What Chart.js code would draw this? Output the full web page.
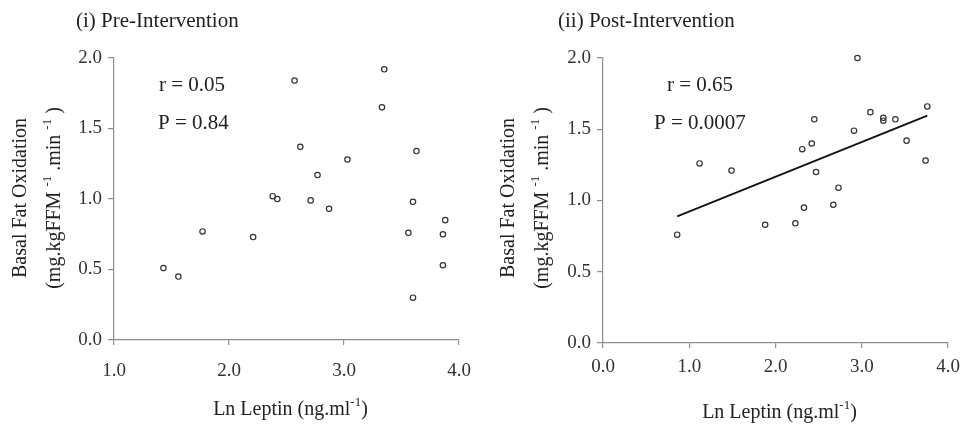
<!DOCTYPE html>
<html>
<head>
<meta charset="utf-8">
<script src="https://cdn.jsdelivr.net/npm/chart.js@4.4.1/dist/chart.umd.min.js"></script>
<style>
  html, body { margin: 0; padding: 0; background: #fff; }
  #wrap { position: relative; width: 965px; height: 432px; overflow: hidden; }
  canvas { position: absolute; top: 0; }
  #pre { left: 0; }
  #post { left: 480px; }
</style>
</head>
<body>
<div id="wrap">
  <canvas id="pre" width="480" height="432"></canvas>
  <canvas id="post" width="485" height="432"></canvas>
</div>
<script>
// values
const preLeptin = [1.43, 1.56, 1.77, 2.21, 2.38, 2.42, 2.57, 2.62, 2.71, 2.77, 2.87,
                   3.03, 3.33, 3.35, 3.63, 3.56, 3.60, 3.60, 3.88, 3.86, 3.86];
const preFatOx  = [0.51, 0.45, 0.77, 0.73, 1.02, 1.00, 1.84, 1.37, 0.99, 1.17, 0.93,
                   1.28, 1.65, 1.92, 1.34, 0.76, 0.98, 0.30, 0.85, 0.75, 0.53];

const postLeptin = [0.86, 1.12, 1.49, 1.88, 2.23, 2.31, 2.33, 2.42, 2.45, 2.47, 2.67,
                    2.73, 2.91, 2.95, 3.10, 3.25, 3.25, 3.39, 3.52, 3.74, 3.76];
const postFatOx  = [0.76, 1.26, 1.21, 0.83, 0.84, 1.36, 0.95, 1.40, 1.57, 1.20, 0.97,
                    1.09, 1.49, 2.00, 1.62, 1.58, 1.56, 1.57, 1.42, 1.28, 1.66];

const yTicks = [0, 0.5, 1.0, 1.5, 2.0];
const preXTicks = [1.0, 2.0, 3.0, 4.0];
const postXTicks = [0.0, 1.0, 2.0, 3.0, 4.0];

const preTitle = '(i) Pre-Intervention';
const postTitle = '(ii) Post-Intervention';
const preStats = ['r = 0.05', 'P = 0.84'];
const postStats = ['r = 0.65', 'P = 0.0007'];
const xLabelParts = [{ t: 'Ln Leptin (ng.ml' }, { t: '-1', sup: true }, { t: ')' }];
const yLabelLine1 = [{ t: 'Basal Fat Oxidation' }];
const yLabelLine2 = [{ t: '(mg.kgFFM ' }, { t: '-1', sup: true }, { t: ' .min ' }, { t: '-1', sup: true }, { t: ' )' }];

const SERIF = '"Liberation Serif", "Times New Roman", serif';
const AXIS = '#8e8e8e';
const INK = '#222';

function points(xs, ys) {
  return xs.map((x, i) => ({ x: x, y: ys[i] }));
}

// least squares line over the data range
function fitLine(xs, ys) {
  const n = xs.length;
  const mx = xs.reduce((a, b) => a + b, 0) / n;
  const my = ys.reduce((a, b) => a + b, 0) / n;
  let sxy = 0, sxx = 0;
  for (let i = 0; i < n; i++) {
    sxy += (xs[i] - mx) * (ys[i] - my);
    sxx += (xs[i] - mx) * (xs[i] - mx);
  }
  const b = sxy / sxx, a = my - b * mx;
  const x0 = Math.min(...xs), x1 = Math.max(...xs);
  return [{ x: x0, y: a + b * x0 }, { x: x1, y: a + b * x1 }];
}

function drawRich(ctx, parts, cx, cy, size) {
  const big = size + 'px ' + SERIF;
  const small = Math.round(size * 0.65) + 'px ' + SERIF;
  let total = 0;
  parts.forEach(p => { ctx.font = p.sup ? small : big; total += ctx.measureText(p.t).width; });
  let x = cx - total / 2;
  ctx.textAlign = 'left';
  ctx.textBaseline = 'middle';
  parts.forEach(p => {
    ctx.font = p.sup ? small : big;
    ctx.fillText(p.t, x, p.sup ? cy - size * 0.38 : cy);
    x += ctx.measureText(p.t).width;
  });
}

const panelText = {
  id: 'panelText',
  afterDraw(chart, args, o) {
    const ctx = chart.ctx;
    const a = chart.chartArea;
    ctx.save();
    ctx.fillStyle = INK;
    ctx.textAlign = 'left';
    ctx.textBaseline = 'middle';
    ctx.font = '21px ' + SERIF;
    ctx.fillText(o.title, o.titleX, 21);
    ctx.font = '21px ' + SERIF;
    o.stats.forEach((s, i) => ctx.fillText(s, o.statsX[i], [85, 123][i]));
    drawRich(ctx, xLabelParts, (a.left + a.right) / 2 + 4, o.xLabelY, 20);
    ctx.translate(0, 198);
    ctx.rotate(-Math.PI / 2);
    drawRich(ctx, yLabelLine1, 0, o.yLabelX[0], 20);
    drawRich(ctx, yLabelLine2, 0, o.yLabelX[1], 20);
    ctx.restore();
  }
};

function makeChart(id, pts, trend, xTicks, xMin, pad, yWidth, xHeight, xLineHeight, text) {
  const datasets = [{
    type: 'scatter',
    data: pts,
    clip: false,
    pointStyle: 'circle',
    pointRadius: 2.7,
    pointBorderWidth: 1.2,
    pointBorderColor: '#333',
    pointBackgroundColor: 'rgba(255,255,255,0)',
    showLine: false
  }];
  if (trend) {
    datasets.push({
      type: 'line',
      data: trend,
      borderColor: '#111',
      borderWidth: 1.8,
      pointRadius: 0,
      fill: false
    });
  }
  return new Chart(document.getElementById(id), {
    type: 'scatter',
    data: { datasets: datasets },
    plugins: [panelText],
    options: {
      responsive: false,
      animation: false,
      layout: { padding: pad },
      plugins: {
        legend: { display: false },
        tooltip: { enabled: false },
        panelText: text
      },
      scales: {
        x: {
          type: 'linear',
          min: xMin,
          max: 4,
          afterBuildTicks: s => { s.ticks = xTicks.map(v => ({ value: v })); },
          afterFit: s => { s.height = xHeight; },
          border: { display: true, color: AXIS, width: 1.2 },
          grid: { drawOnChartArea: false, drawTicks: true, tickLength: 5, color: AXIS, lineWidth: 1.2 },
          ticks: {
            padding: 2,
            color: '#333',
            font: { family: SERIF, size: 19, lineHeight: xLineHeight },
            maxRotation: 0,
            callback: v => Number(v).toFixed(1)
          }
        },
        y: {
          type: 'linear',
          min: 0,
          max: 2,
          afterBuildTicks: s => { s.ticks = yTicks.map(v => ({ value: v })); },
          afterFit: s => { s.width = yWidth; },
          border: { display: true, color: AXIS, width: 1.2 },
          grid: { drawOnChartArea: false, drawTicks: true, tickLength: 6, color: AXIS, lineWidth: 1.2 },
          ticks: {
            padding: 6,
            color: '#333',
            font: { family: SERIF, size: 19 },
            callback: v => Number(v).toFixed(1)
          }
        }
      }
    }
  });
}

makeChart('pre', points(preLeptin, preFatOx), null, preXTicks, 1,
  { left: 0, right: 21, top: 58, bottom: 0 }, 114, 92, 2.53,
  { title: preTitle, titleX: 76, stats: preStats, statsX: [159, 158], xLabelY: 410, yLabelX: [21, 55] });

makeChart('post', points(postLeptin, postFatOx), fitLine(postLeptin, postFatOx), postXTicks, 0,
  { left: 0, right: 17, top: 58, bottom: 0 }, 123, 89, 1.79,
  { title: postTitle, titleX: 78, stats: postStats, statsX: [187, 174], xLabelY: 413, yLabelX: [29, 63] });
</script>
</body>
</html>
